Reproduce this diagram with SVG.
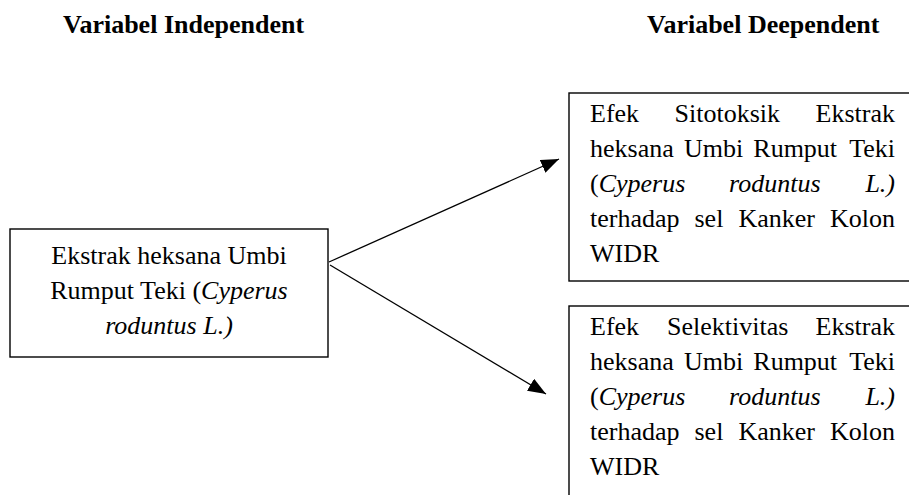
<svg xmlns="http://www.w3.org/2000/svg" width="909" height="495" viewBox="0 0 909 495">
<style>
text{font-family:"Liberation Serif","Times New Roman",serif;font-size:26px;fill:#000}
.h{font-weight:bold}
.i{font-style:italic}
.box{fill:#fff;stroke:#000;stroke-width:1.4}
.conn{stroke:#000;stroke-width:1.3;fill:none}
</style>
<defs>
<marker id="ah" markerUnits="userSpaceOnUse" markerWidth="19" markerHeight="14" refX="18" refY="7" orient="auto">
<path d="M0,0 L18,7 L0,14 z" fill="#000"/>
</marker>
</defs>
<rect width="909" height="495" fill="#fff"/>
<g id="headers">
<text class="h" x="63" y="33">Variabel Independent</text>
<text class="h" x="647" y="33">Variabel Deependent</text>
</g>
<g id="connectors">
<line class="conn" x1="329" y1="262" x2="559" y2="159" marker-end="url(#ah)"/>
<line class="conn" x1="330" y1="265" x2="546" y2="394" marker-end="url(#ah)"/>
</g>
<g id="node-independent">
<rect class="box" x="10" y="229" width="318" height="128"/>
<text x="169" y="264" text-anchor="middle">Ekstrak heksana Umbi</text>
<text x="169" y="299" text-anchor="middle">Rumput Teki (<tspan class="i">Cyperus</tspan></text>
<text x="169" y="334" text-anchor="middle" class="i">roduntus L.)</text>
</g>
<g id="node-sitotoksik">
<rect class="box" x="569" y="93" width="350" height="188"/>
<text y="122"><tspan x="590">Efek</tspan><tspan x="674.6">Sitotoksik</tspan><tspan x="895" text-anchor="end">Ekstrak</tspan></text>
<text y="157"><tspan x="590">heksana</tspan><tspan x="683.9">Umbi</tspan><tspan x="753.3">Rumput</tspan><tspan x="895" text-anchor="end">Teki</tspan></text>
<text y="192"><tspan x="590">(</tspan><tspan class="i">Cyperus</tspan><tspan x="729.1" class="i">roduntus</tspan><tspan x="895" text-anchor="end" class="i">L.)</tspan></text>
<text y="227"><tspan x="590">terhadap</tspan><tspan x="694.5">sel</tspan><tspan x="738.4">Kanker</tspan><tspan x="895" text-anchor="end">Kolon</tspan></text>
<text x="590" y="262">WIDR</text>
</g>
<g id="node-selektivitas">
<rect class="box" x="569" y="306" width="350" height="200"/>
<text y="335"><tspan x="590">Efek</tspan><tspan x="667">Selektivitas</tspan><tspan x="895" text-anchor="end">Ekstrak</tspan></text>
<text y="370"><tspan x="590">heksana</tspan><tspan x="683.9">Umbi</tspan><tspan x="753.3">Rumput</tspan><tspan x="895" text-anchor="end">Teki</tspan></text>
<text y="405"><tspan x="590">(</tspan><tspan class="i">Cyperus</tspan><tspan x="729.1" class="i">roduntus</tspan><tspan x="895" text-anchor="end" class="i">L.)</tspan></text>
<text y="440"><tspan x="590">terhadap</tspan><tspan x="694.5">sel</tspan><tspan x="738.4">Kanker</tspan><tspan x="895" text-anchor="end">Kolon</tspan></text>
<text x="590" y="475">WIDR</text>
</g>
</svg>
